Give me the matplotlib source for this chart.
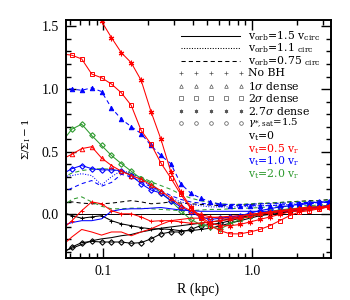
import matplotlib
matplotlib.use('Agg')
import matplotlib.pyplot as plt
from matplotlib.ticker import MultipleLocator, NullFormatter, LogLocator

plt.rcParams['font.family'] = ['Liberation Serif', 'DejaVu Serif']
plt.rcParams['mathtext.fontset'] = 'dejavuserif'

# radial bins (kpc)
R = [0.0526, 0.0613, 0.0714, 0.0833, 0.0971, 0.1132, 0.1319, 0.1537, 0.1792, 0.2089,
     0.2435, 0.2839, 0.3309, 0.3857, 0.4496, 0.5241, 0.6109, 0.7121, 0.8302, 0.9681,
     1.128, 1.315, 1.533, 1.787, 2.083, 2.428, 2.830, 3.300]

# v_t = 0 (black)
k_plus = [0.02, -0.01, -0.03, -0.02, -0.01, -0.05, -0.075, -0.09, -0.105, -0.115, -0.115, -0.12, -0.13, -0.13,
          -0.12, -0.11, -0.09, -0.07, -0.05, -0.03, -0.01, 0.0, 0.01, 0.02, 0.03, 0.04, 0.05, 0.06]
k_diam = [-0.31, -0.26, -0.225, -0.215, -0.22, -0.22, -0.22, -0.23, -0.225, -0.195, -0.155, -0.14, -0.14, -0.12,
          -0.09, -0.08, -0.07, -0.05, -0.03, -0.01, 0.0, 0.01, 0.02, 0.03, 0.04, 0.05, 0.06, 0.07]
k_line = [-0.30, -0.27, -0.24, -0.21, -0.195, -0.185, -0.17, -0.16, -0.14, -0.125, -0.11, -0.10, -0.09, -0.08,
          -0.07, -0.06, -0.05, -0.035, -0.02, -0.01, 0.0, 0.01, 0.02, 0.03, 0.04, 0.05, 0.06, 0.07]
k_dash = [0.10, 0.10, 0.09, 0.085, 0.085, 0.09, 0.10, 0.11, 0.10, 0.085, 0.09, 0.10, 0.09, 0.085,
          0.08, 0.075, 0.07, 0.07, 0.075, 0.08, 0.085, 0.09, 0.095, 0.10, 0.105, 0.11, 0.11, 0.12]

# v_t = 0.5 v_r (red)
r_star = [2.10, 1.90, 1.75, 1.62, 1.54, 1.41, 1.29, 1.21, 1.07, 0.82, 0.60, 0.34, 0.18, 0.06,
          -0.02, -0.07, -0.09, -0.09, -0.08, -0.06, -0.04, -0.02, 0.0, 0.02, 0.03, 0.04, 0.05, 0.06]
r_sq = [1.28, 1.27, 1.24, 1.12, 1.09, 1.04, 0.97, 0.87, 0.67, 0.56, 0.41, 0.29, 0.16, 0.05,
        -0.03, -0.09, -0.13, -0.155, -0.155, -0.14, -0.12, -0.09, -0.05, -0.01, 0.02, 0.03, 0.045, 0.06]
r_tri = [0.44, 0.48, 0.525, 0.54, 0.45, 0.39, 0.345, 0.31, 0.28, 0.235, 0.19, 0.13, 0.07, 0.03,
         0.0, -0.02, -0.03, -0.03, -0.02, 0.0, 0.01, 0.02, 0.03, 0.04, 0.05, 0.06, 0.06, 0.07]
r_plus = [-0.12, -0.05, 0.03, 0.10, 0.085, 0.03, 0.005, 0.005, -0.02, -0.055, -0.05, -0.05, -0.06, -0.07,
          -0.07, -0.06, -0.05, -0.04, -0.03, -0.02, 0.0, 0.01, 0.02, 0.03, 0.04, 0.05, 0.05, 0.06]
r_line = [-0.25, -0.18, -0.12, -0.14, -0.165, -0.14, -0.14, -0.17, -0.14, -0.115, -0.08, -0.05, -0.04, -0.03,
          -0.03, -0.025, -0.02, -0.015, -0.01, 0.0, 0.01, 0.02, 0.03, 0.035, 0.04, 0.05, 0.05, 0.06]

# v_t = 1.0 v_r (blue)
b_tri = [1.01, 1.0, 0.99, 1.01, 0.98, 0.85, 0.76, 0.70, 0.645, 0.55, 0.47, 0.405, 0.245, 0.17,
         0.13, 0.10, 0.08, 0.07, 0.07, 0.07, 0.07, 0.07, 0.075, 0.08, 0.08, 0.085, 0.09, 0.10]
b_diam = [0.32, 0.365, 0.39, 0.365, 0.355, 0.355, 0.35, 0.31, 0.245, 0.195, 0.17, 0.11, 0.06, 0.02,
          -0.02, -0.04, -0.03, -0.02, -0.01, 0.01, 0.03, 0.045, 0.06, 0.07, 0.08, 0.09, 0.10, 0.10]
b_dot = [0.30, 0.31, 0.325, 0.31, 0.235, 0.30, 0.35, 0.33, 0.28, 0.22, 0.17, 0.13, 0.10, 0.08,
         0.07, 0.06, 0.06, 0.06, 0.06, 0.065, 0.07, 0.07, 0.075, 0.08, 0.085, 0.09, 0.095, 0.10]
b_dash = [0.17, 0.21, 0.245, 0.27, 0.225, 0.255, 0.32, 0.30, 0.26, 0.22, 0.19, 0.15, 0.12, 0.10,
          0.09, 0.08, 0.08, 0.08, 0.08, 0.08, 0.085, 0.085, 0.09, 0.09, 0.095, 0.095, 0.10, 0.10]
b_line = [-0.09, -0.065, -0.05, -0.05, -0.035, 0.025, 0.04, 0.045, 0.045, 0.05, 0.055, 0.045, 0.035, 0.03,
          0.025, 0.025, 0.025, 0.025, 0.025, 0.025, 0.025, 0.025, 0.025, 0.03, 0.04, 0.05, 0.06, 0.07]

# v_t = 2.0 v_r (green)
g_diam = [0.58, 0.68, 0.72, 0.63, 0.55, 0.47, 0.405, 0.345, 0.285, 0.25, 0.17, 0.11, 0.03, -0.04,
          -0.08, -0.10, -0.115, -0.075, -0.04, -0.01, 0.01, 0.025, 0.035, 0.045, 0.05, 0.06, 0.065, 0.07]
g_dash1 = [0.29, 0.33, 0.35, 0.36, 0.365, 0.36, 0.34, 0.32, 0.30, 0.26, 0.23, 0.20, 0.16, 0.13,
           0.11, 0.095, 0.085, 0.08, 0.08, 0.085, 0.09, 0.09, 0.095, 0.10, 0.10, 0.105, 0.11, 0.115]
g_dash2 = [0.06, 0.12, 0.14, 0.10, 0.065, 0.045, 0.045, 0.05, 0.05, 0.045, 0.04, 0.035, 0.03, 0.03,
           0.035, 0.04, 0.04, 0.045, 0.05, 0.05, 0.055, 0.06, 0.06, 0.065, 0.07, 0.07, 0.075, 0.08]

red = '#ff0000'
blue = '#0000ff'
green = '#2e9a2e'
asterisk = (6, 2, 0)
lw = 0.75

fig = plt.figure(figsize=(3.5, 3.0), dpi=100)
ax = fig.add_axes([0.188, 0.139, 0.757, 0.794])

ax.axhline(0.0, color='black', lw=0.7)

mk = dict(ms=3.2, mew=0.7, mfc='none')
dash = (0, (4, 3))
dot = (0, (1, 1.5))
ax.plot(R, k_dash, color='black', lw=lw, ls=dash)
ax.plot(R, k_line, color='black', lw=lw)
ax.plot(R, k_plus, color='black', lw=lw, marker='+', **mk)
ax.plot(R, k_diam, color='black', lw=lw, marker='D', ms=2.8, mew=0.8, mfc='none')

ax.plot(R, g_dash2, color=green, lw=lw, ls=dash)
ax.plot(R, g_dash1, color=green, lw=lw, ls=dash)
ax.plot(R, g_diam, color=green, lw=lw, marker='D', ms=2.8, mew=0.8, mfc='none')

ax.plot(R, b_line, color=blue, lw=lw)
ax.plot(R, b_dash, color=blue, lw=lw, ls=dash)
ax.plot(R, b_dot, color=blue, lw=lw, ls=dot)
ax.plot(R, b_diam, color=blue, lw=lw, marker='D', ms=2.8, mew=0.8, mfc='none')
ax.plot(R, b_tri, color=blue, lw=lw, ls=dash, marker='^', ms=3.2, mew=0.7, mfc=blue)

ax.plot(R, r_line, color=red, lw=lw)
ax.plot(R, r_plus, color=red, lw=lw, marker='+', **mk)
ax.plot(R, r_tri, color=red, lw=lw, marker='^', **mk)
ax.plot(R, r_sq, color=red, lw=lw, marker='s', **mk)
ax.plot(R, r_star, color=red, lw=lw, marker=asterisk, ms=4, mew=0.8)

ax.set_xscale('log')
ax.set_xlim(0.0558, 3.38)
ax.set_ylim(-0.35, 1.55)
ax.set_xticks([0.1, 1.0])
ax.set_xticklabels(['0.1', '1.0'])
ax.xaxis.set_minor_locator(LogLocator(base=10, subs=range(2, 10)))
ax.xaxis.set_minor_formatter(NullFormatter())
ax.set_yticks([0.0, 0.5, 1.0, 1.5])
ax.set_yticklabels(['0.0', '0.5', '1.0', '1.5'])
ax.yaxis.set_minor_locator(MultipleLocator(0.1))
ax.tick_params(which='both', direction='in', top=True, right=True, labelsize=10, width=1)
ax.tick_params(which='major', length=7, pad=5)
ax.tick_params(which='minor', length=3.5)
for s in ax.spines.values():
    s.set_linewidth(1.4)

ax.set_xlabel('R (kpc)', fontsize=10, labelpad=3)
ax.set_ylabel(r'$\Sigma/\Sigma_{\rm I}-1$', fontsize=7.5, labelpad=6)

# legend block
rows = [0.933, 0.881, 0.828, 0.776, 0.724, 0.672, 0.619, 0.570, 0.514, 0.459, 0.407, 0.355]
tx = 0.687
lx = [0.435, 0.658]
for i, ls in enumerate(['-', dot, dash]):
    ax.plot(lx, [rows[i], rows[i]], color='black', lw=lw, ls=ls, transform=ax.transAxes)
mx = [0.435, 0.492, 0.548, 0.605, 0.662]
for i, m in enumerate(['+', '^', 's', asterisk, 'o']):
    ax.plot(mx, [rows[3 + i]] * 5, ls='none', marker=m, ms=2.6, mew=0.5, mfc='none',
            color='#555555', transform=ax.transAxes)

labels = [r'v$_{\rm orb}$=1.5 v$_{\rm circ}$', r'v$_{\rm orb}$=1.1 $_{\rm circ}$',
          r'v$_{\rm orb}$=0.75 $_{\rm circ}$', 'No BH', r'1$\sigma$ dense', r'2$\sigma$ dense',
          r'2.7$\sigma$ dense', r'$\gamma_{*,\rm sat}$=1.5', r'v$_{\rm t}$=0',
          r'v$_{\rm t}$=0.5 v$_{\rm r}$', r'v$_{\rm t}$=1.0 v$_{\rm r}$', r'v$_{\rm t}$=2.0 v$_{\rm r}$']
colors = ['black'] * 9 + [red, blue, green]
sizes = [7.8] * 7 + [7.4] + [7.8] * 4
for i, (lab, c) in enumerate(zip(labels, colors)):
    ax.text(tx, rows[i], lab, color=c, fontsize=sizes[i], family='DejaVu Serif',
            va='center', ha='left', transform=ax.transAxes)

fig.savefig('out.png', dpi=100)
